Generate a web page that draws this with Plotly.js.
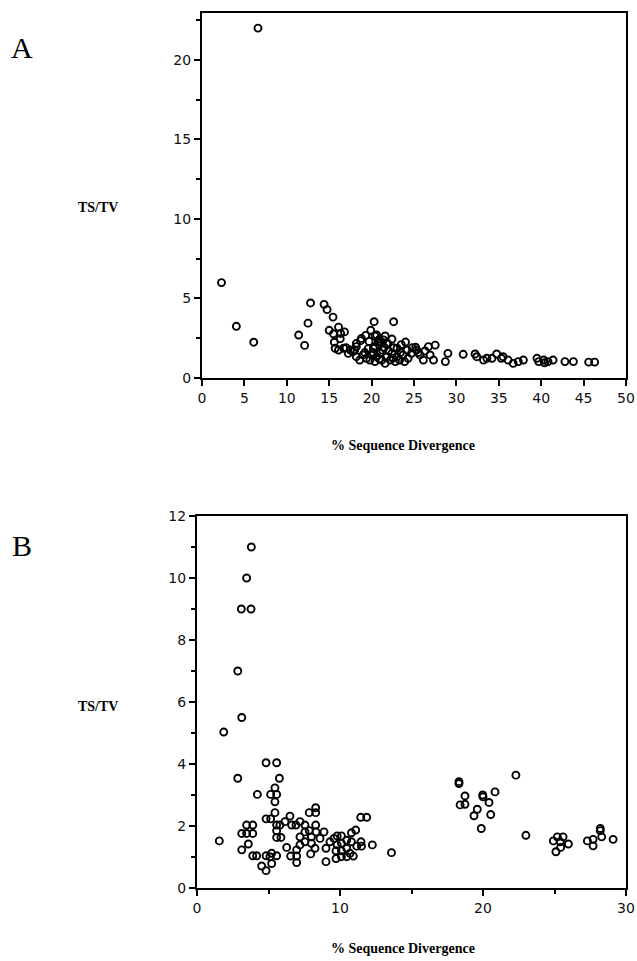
<!DOCTYPE html>
<html>
<head>
<meta charset="utf-8">
<script src="https://cdn.plot.ly/plotly-3.0.1.min.js"></script>
<style>html,body{margin:0;padding:0;background:#fff;}#chart{width:637px;height:961px;}</style>
</head>
<body>
<div id="chart"></div>
<script>
// Panel A: % sequence divergence vs TS/TV
const divA = [2.3,4.05,6.1,6.6,11.4,12.1,12.5,12.8,14.4,14.75,15.45,15.0,16.1,15.5,16.35,16.8,16.3,15.6,15.7,16.7,17.5,18.2,18.8,18.0,19.3,19.9,20.3,22.6,20.4,20.9,21.6,21.1,21.9,22.4,24.0,25.2,20.4,21.5,18.2,18.7,20.6,20.8,21.8,20.2,23.0,16.1,17.25,17.8,18.2,18.6,19.0,19.4,19.8,20.0,20.4,20.6,21.0,21.2,21.6,21.8,22.2,22.4,22.8,23.0,23.3,23.7,23.9,24.3,24.7,25.3,25.7,26.1,26.7,26.9,27.3,27.5,17.0,19.2,19.6,20.2,21.3,22.0,22.6,23.4,24.2,24.8,25.5,26.3,20.9,22.5,19.7,21.4,23.5,29.0,28.7,30.8,32.2,32.4,33.2,33.6,34.2,34.75,35.3,35.5,36.1,36.7,37.3,37.9,39.5,39.7,40.3,40.4,40.8,41.4,42.8,43.8,45.6,46.3];
const ratioA = [6.0,3.25,2.25,22.0,2.7,2.05,3.45,4.72,4.63,4.3,3.83,3.0,3.2,2.78,2.8,2.9,2.47,2.25,1.87,1.87,1.76,2.18,2.49,1.76,2.68,3.0,3.54,3.54,2.64,2.43,2.64,2.22,2.16,2.45,2.26,1.93,1.97,1.93,1.97,2.35,2.7,2.28,2.18,1.87,1.87,1.76,1.55,1.66,1.34,1.13,1.45,1.24,1.13,1.45,1.03,1.34,1.55,1.13,0.92,1.34,1.13,1.55,1.03,1.34,1.13,1.45,1.03,1.24,1.55,1.76,1.45,1.13,1.97,1.45,1.13,2.07,1.9,1.6,1.85,1.6,1.75,1.7,1.9,1.6,1.75,1.9,1.6,1.7,1.2,1.25,2.3,2.4,2.1,1.55,1.03,1.49,1.51,1.34,1.13,1.24,1.24,1.51,1.24,1.34,1.13,0.92,1.03,1.13,1.24,1.03,1.13,0.96,1.03,1.13,1.03,1.03,1.0,1.0];

// Panel B
const divB = [1.56,1.87,2.85,3.13,2.85,3.47,3.8,3.1,3.78,3.13,3.47,3.9,3.47,3.9,3.59,3.13,3.9,4.17,4.52,4.83,5.22,4.83,5.22,5.57,5.1,4.22,4.83,5.57,5.76,5.45,5.15,5.57,5.45,5.45,4.83,5.15,5.57,5.8,5.57,5.57,5.87,6.15,6.5,6.62,6.92,7.2,7.55,7.85,8.3,8.3,8.3,7.2,7.55,7.85,8.0,8.32,8.6,8.88,6.27,6.55,6.97,6.97,7.2,6.97,7.55,8.0,8.25,7.95,9.02,9.02,9.3,9.58,9.8,10.1,9.8,10.1,9.72,10.1,9.72,10.1,10.47,10.47,10.47,10.7,10.8,10.8,11.1,10.93,11.17,11.5,11.47,11.45,11.87,12.26,13.6,18.32,18.32,18.74,18.4,18.74,19.98,20.0,20.42,20.84,19.6,19.37,20.54,19.88,22.3,23.0,24.92,25.2,25.6,25.4,25.97,25.43,25.1,27.3,27.7,27.7,28.3,28.2,28.2,29.1];
const ratioB = [1.52,5.03,7.0,5.5,3.54,10.0,11.0,9.0,9.0,1.76,1.76,1.76,2.03,2.03,1.42,1.23,1.04,1.04,0.71,0.56,0.79,1.04,1.12,1.04,1.01,3.02,4.04,4.04,3.54,3.23,3.02,3.02,2.78,2.43,2.23,2.23,2.03,2.03,1.85,1.63,1.63,2.14,2.32,2.03,2.03,2.14,2.03,2.43,2.59,2.43,2.03,1.65,1.81,1.85,1.65,1.81,1.6,1.81,1.31,1.03,1.03,0.82,1.39,1.23,1.49,1.44,1.28,1.1,1.28,0.85,1.49,1.6,1.68,1.68,1.39,1.44,1.2,1.2,0.95,1.01,1.54,1.28,1.01,1.12,1.49,1.78,1.87,1.03,1.35,1.35,1.49,2.28,2.28,1.39,1.14,3.43,3.37,2.97,2.68,2.7,3.0,2.94,2.76,3.1,2.54,2.33,2.37,1.92,3.64,1.7,1.52,1.65,1.65,1.49,1.42,1.31,1.17,1.52,1.57,1.36,1.65,1.85,1.92,1.57];

const xTitle = '% Sequence Divergence';
const yTitle = 'TS/TV';

const W = 637, H = 961;
const px = x => x / W, py = y => 1 - y / H;

const marker = {symbol: 'circle-open', size: 7, color: '#000', line: {width: 1.9, color: '#000'}};
const tickFont = {family: 'DejaVu Sans', size: 14, color: '#111'};
const titleFont = {family: 'Liberation Serif', size: 14, color: '#000'};

const traces = [
  {x: divA, y: ratioA, type: 'scatter', mode: 'markers', marker: marker, xaxis: 'x', yaxis: 'y', hoverinfo: 'x+y'},
  {x: divB, y: ratioB, type: 'scatter', mode: 'markers', marker: marker, xaxis: 'x2', yaxis: 'y2', hoverinfo: 'x+y'}
];

const axBase = {showgrid: false, zeroline: false, showline: true, linecolor: '#000', linewidth: 2,
  mirror: true, ticks: 'outside', ticklen: 6, tickwidth: 2, tickcolor: '#000', tickfont: tickFont};

const layout = {
  width: W, height: H,
  margin: {l: 0, r: 0, t: 0, b: 0},
  paper_bgcolor: '#fff', plot_bgcolor: '#fff',
  showlegend: false,
  xaxis: Object.assign({}, axBase, {domain: [px(202), px(626)], range: [0, 50], tickvals: [0,5,10,15,20,25,30,35,40,45,50], anchor: 'y'}),
  yaxis: Object.assign({}, axBase, {domain: [py(378), py(13)], range: [0, 22.95], tickvals: [0,5,10,15,20],
    minor: {tickvals: [2.5,7.5,12.5,17.5,22.5], ticks: 'outside', ticklen: 4, tickwidth: 2, tickcolor: '#000'}, anchor: 'x'}),
  xaxis2: Object.assign({}, axBase, {domain: [px(197), px(626)], range: [0, 30], tickvals: [0,10,20,30],
    minor: {tickvals: [5,15,25], ticks: 'outside', ticklen: 4, tickwidth: 2, tickcolor: '#000'}, anchor: 'y2'}),
  yaxis2: Object.assign({}, axBase, {domain: [py(888), py(516)], range: [0, 12], tickvals: [0,2,4,6,8,10,12],
    minor: {tickvals: [1,3,5,7,9,11], ticks: 'outside', ticklen: 4, tickwidth: 2, tickcolor: '#000'}, anchor: 'x2'}),
  annotations: [
    {text: 'A', xref: 'paper', yref: 'paper', x: px(22), y: py(48), xanchor: 'center', yanchor: 'middle', showarrow: false, font: {family: 'Liberation Serif', size: 30, color: '#000'}},
    {text: 'B', xref: 'paper', yref: 'paper', x: px(22), y: py(545), xanchor: 'center', yanchor: 'middle', showarrow: false, font: {family: 'Liberation Serif', size: 30, color: '#000'}},
    {text: '<b>' + yTitle + '</b>', xref: 'paper', yref: 'paper', x: px(98), y: py(208), xanchor: 'center', yanchor: 'middle', showarrow: false, font: titleFont},
    {text: '<b>' + yTitle + '</b>', xref: 'paper', yref: 'paper', x: px(98), y: py(706), xanchor: 'center', yanchor: 'middle', showarrow: false, font: titleFont},
    {text: '<b>' + xTitle + '</b>', xref: 'paper', yref: 'paper', x: px(403), y: py(445), xanchor: 'center', yanchor: 'middle', showarrow: false, font: titleFont},
    {text: '<b>' + xTitle + '</b>', xref: 'paper', yref: 'paper', x: px(403), y: py(948), xanchor: 'center', yanchor: 'middle', showarrow: false, font: titleFont}
  ]
};

Plotly.newPlot('chart', traces, layout, {staticPlot: true, displayModeBar: false});
</script>
</body>
</html>
